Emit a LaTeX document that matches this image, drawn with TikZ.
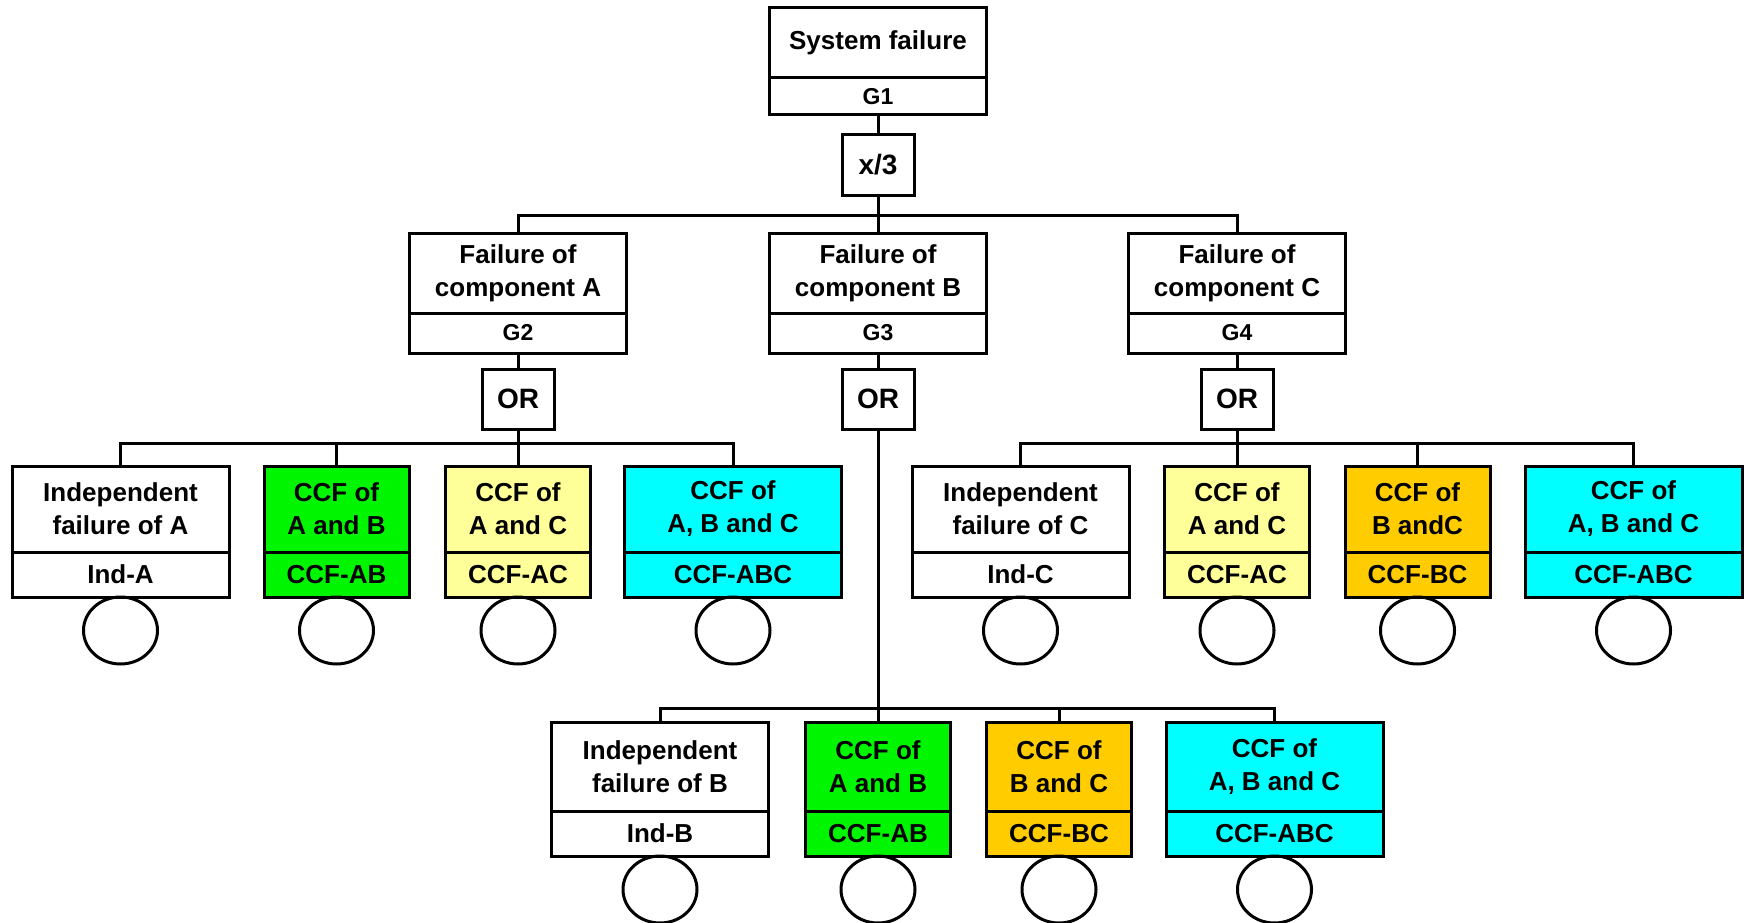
\documentclass[tikz,border=0pt]{standalone}
\usepackage{fontspec}
\setmainfont{Liberation Sans}
\usetikzlibrary{positioning,shapes.geometric}
\definecolor{ccfgreen}{RGB}{0,245,0}
\definecolor{ccfyellow}{RGB}{255,255,153}
\definecolor{ccforange}{RGB}{255,204,0}
\definecolor{ccfcyan}{RGB}{0,255,255}

\begin{document}
\begin{tikzpicture}[x=1pt, y=-1pt, line width=3pt,
  every node/.style={draw, rectangle, inner sep=0pt, outer sep=0pt, align=center,
    font=\bfseries\fontsize{26}{33}\selectfont},
  gid/.style={font=\bfseries\fontsize{23}{26}\selectfont},
  wide/.style={minimum width=217pt},
  narrow/.style={minimum width=145pt},
  gatebox/.style={minimum width=72pt, minimum height=60pt, font=\bfseries\fontsize{28}{32}\selectfont},
  upper/.style={minimum height=86pt},
  lower/.style={minimum height=45pt},
  leaf/.style={ellipse, minimum width=74pt, minimum height=67pt}]

        \useasboundingbox (0,0) rectangle (1746,923);

        % Top event
        \node[wide, minimum height=70pt, anchor=north] (top) at (878,8) {System failure};
        \node[wide, minimum height=37pt, gid, below=0pt of top] (g1) {G1};
        \node[gatebox, anchor=north] (vote) at (878,135) {x/3};

        % Component gates
        \node[wide, minimum height=80pt, anchor=north] (ga) at (518,233) {Failure of\\component A};
        \node[wide, minimum height=40pt, gid, below=0pt of ga] (gaid) {G2};
        \node[gatebox, anchor=north] (ora) at (518,369) {OR};

        \node[wide, minimum height=80pt, anchor=north] (gb) at (878,233) {Failure of\\component B};
        \node[wide, minimum height=40pt, gid, below=0pt of gb] (gbid) {G3};
        \node[gatebox, anchor=north] (orb) at (878,369) {OR};

        \node[wide, minimum height=80pt, anchor=north] (gc) at (1237,233) {Failure of\\component C};
        \node[wide, minimum height=40pt, gid, below=0pt of gc] (gcid) {G4};
        \node[gatebox, anchor=north] (orc) at (1237,369) {OR};

        % Basic events under G2
        \node[wide, upper, anchor=north] (indA) at (120.5,466) {Independent\\failure of A};
        \node[wide, lower, below=0pt of indA] (indAid) {Ind-A};
        \node[leaf, below=0pt of indAid] (indAev) {};

        \node[narrow, upper, fill=ccfgreen, anchor=north] (abA) at (336.5,466) {CCF of\\A and B};
        \node[narrow, lower, fill=ccfgreen, below=0pt of abA] (abAid) {CCF-AB};
        \node[leaf, below=0pt of abAid] (abAev) {};

        \node[narrow, upper, fill=ccfyellow, anchor=north] (acA) at (518,466) {CCF of\\A and C};
        \node[narrow, lower, fill=ccfyellow, below=0pt of acA] (acAid) {CCF-AC};
        \node[leaf, below=0pt of acAid] (acAev) {};

        \node[wide, upper, fill=ccfcyan, anchor=north] (abcA) at (733,466) {CCF of\\A, B and C};
        \node[wide, lower, fill=ccfcyan, below=0pt of abcA] (abcAid) {CCF-ABC};
        \node[leaf, below=0pt of abcAid] (abcAev) {};

        % Basic events under G4
        \node[wide, upper, anchor=north] (indC) at (1020.5,466) {Independent\\failure of C};
        \node[wide, lower, below=0pt of indC] (indCid) {Ind-C};
        \node[leaf, below=0pt of indCid] (indCev) {};

        \node[narrow, upper, fill=ccfyellow, anchor=north] (acC) at (1237,466) {CCF of\\A and C};
        \node[narrow, lower, fill=ccfyellow, below=0pt of acC] (acCid) {CCF-AC};
        \node[leaf, below=0pt of acCid] (acCev) {};

        \node[narrow, upper, fill=ccforange, anchor=north] (bcC) at (1417.5,466) {CCF of\\B andC};
        \node[narrow, lower, fill=ccforange, below=0pt of bcC] (bcCid) {CCF-BC};
        \node[leaf, below=0pt of bcCid] (bcCev) {};

        \node[wide, upper, fill=ccfcyan, anchor=north] (abcC) at (1633.5,466) {CCF of\\A, B and C};
        \node[wide, lower, fill=ccfcyan, below=0pt of abcC] (abcCid) {CCF-ABC};
        \node[leaf, below=0pt of abcCid] (abcCev) {};

        % Basic events under G3
        \node[wide, minimum height=89pt, anchor=north] (indB) at (660,722) {Independent\\failure of B};
        \node[wide, lower, below=0pt of indB] (indBid) {Ind-B};
        \node[leaf, below=0pt of indBid] (indBev) {};

        \node[narrow, minimum height=89pt, fill=ccfgreen, anchor=north] (abB) at (878,722) {CCF of\\A and B};
        \node[narrow, lower, fill=ccfgreen, below=0pt of abB] (abBid) {CCF-AB};
        \node[leaf, below=0pt of abBid] (abBev) {};

        \node[narrow, minimum height=89pt, fill=ccforange, anchor=north] (bcB) at (1059,722) {CCF of\\B and C};
        \node[narrow, lower, fill=ccforange, below=0pt of bcB] (bcBid) {CCF-BC};
        \node[leaf, below=0pt of bcBid] (bcBev) {};

        \node[wide, minimum height=89pt, fill=ccfcyan, anchor=north] (abcB) at (1274.5,722) {CCF of\\A, B and C};
        \node[wide, lower, fill=ccfcyan, below=0pt of abcB] (abcBid) {CCF-ABC};
        \node[leaf, below=0pt of abcBid] (abcBev) {};

        % Connectors from the top
        \coordinate (bus0) at (878,215);
        \draw (g1) -- (vote);
        \draw (vote) -- (bus0);
        \draw (ga.north) |- (bus0) -| (gc.north);
        \draw (bus0) -- (gb.north);

        % Connectors under G2
        \coordinate (busA) at (518,443);
        \draw (gaid) -- (ora);
        \draw (ora) -- (busA);
        \draw (indA.north) |- (busA) -| (abcA.north);
        \draw (abA.north) -- (abA.north |- busA);
        \draw (busA) -- (acA.north);

        % Connectors under G4
        \coordinate (busC) at (1237,443);
        \draw (gcid) -- (orc);
        \draw (orc) -- (busC);
        \draw (indC.north) |- (busC) -| (abcC.north);
        \draw (busC) -- (acC.north);
        \draw (bcC.north) -- (bcC.north |- busC);

        % Connectors under G3
        \coordinate (busB) at (878,708);
        \draw (gbid) -- (orb);
        \draw (orb) -- (abB);
        \draw (indB.north) |- (busB) -| (abcB.north);
        \draw (bcB.north) -- (bcB.north |- busB);

\end{tikzpicture}
\end{document}
